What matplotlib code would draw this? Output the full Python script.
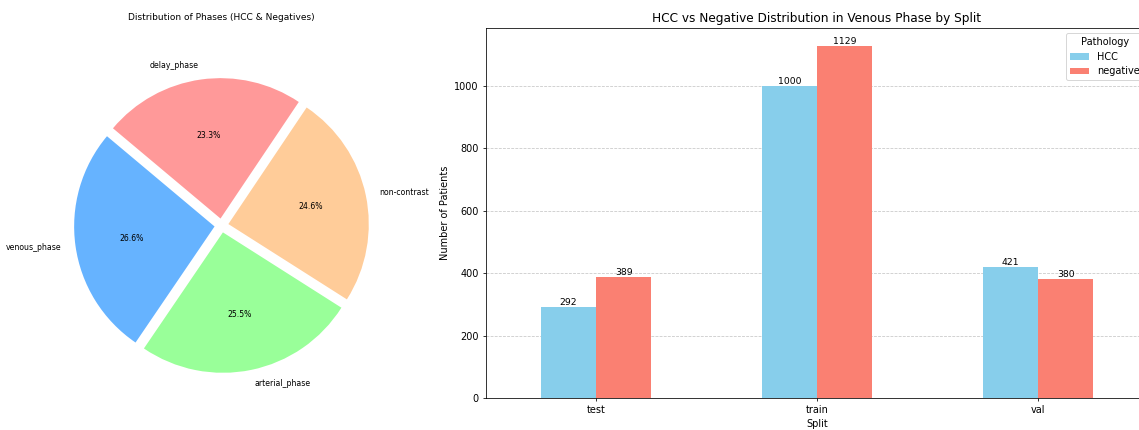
import matplotlib
matplotlib.use("Agg")
import matplotlib.pyplot as plt
import numpy as np

# Pie data
phase_labels = ["venous_phase", "arterial_phase", "non-contrast", "delay_phase"]
phase_pct = [26.6, 25.5, 24.6, 23.3]
phase_colors = ["#66b3ff", "#99ff99", "#ffcc99", "#ff9999"]

# Bar data
splits = ["test", "train", "val"]
hcc_counts = [292, 1000, 421]
neg_counts = [389, 1129, 380]
series_names = ["HCC", "negative"]
series_colors = ["skyblue", "salmon"]

W, H = 1139, 430
DPI = 70
fig = plt.figure(figsize=(W / DPI, H / DPI), dpi=DPI)

# ---- Pie ----
ax1 = fig.add_axes([46 / W, (H - 401) / H, 351 / W, 351 / H])
ax1.pie(phase_pct, labels=phase_labels, colors=phase_colors,
        autopct="%1.1f%%", startangle=140,
        explode=[0.05] * len(phase_pct),
        textprops={"fontsize": 8})
ax1.set_title("Distribution of Phases (HCC & Negatives)", fontsize=9.3, pad=31)
ax1.set_aspect("equal")

# ---- Bars ----
ax2 = fig.add_axes([485.5 / W, (H - 398) / H, 663 / W, 370 / H])
x = np.arange(len(splits))
w = 0.25
b1 = ax2.bar(x - w / 2, hcc_counts, w, color=series_colors[0], label=series_names[0])
b2 = ax2.bar(x + w / 2, neg_counts, w, color=series_colors[1], label=series_names[1])
ax2.set_xlim(-0.5, len(splits) - 0.5)
ax2.set_xticks(x)
ax2.set_xticklabels(splits, rotation=0)
for bars in (b1, b2):
    ax2.bar_label(bars, labels=[str(int(b.get_height())) for b in bars], fontsize=9.5, padding=0)
ax2.set_title("HCC vs Negative Distribution in Venous Phase by Split", fontsize=12.5)
ax2.set_xlabel("Split")
ax2.set_ylabel("Number of Patients")
ax2.grid(axis="y", linestyle="--", alpha=0.7)
ax2.set_axisbelow(True)
ax2.legend(title="Pathology", loc="upper right")

fig.savefig("out.png", dpi=DPI)
